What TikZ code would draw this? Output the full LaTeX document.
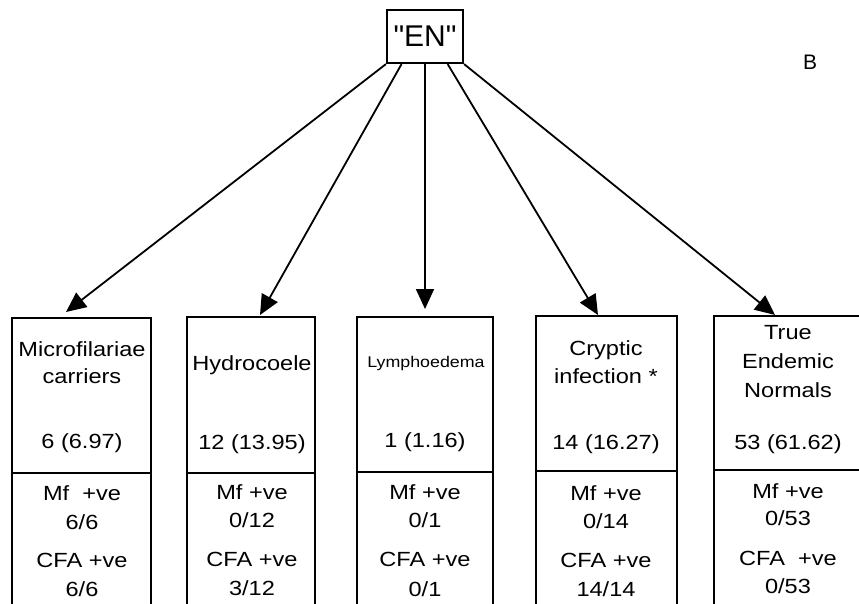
\documentclass[tikz,border=0pt]{standalone}
\usepackage{fontspec}
\setmainfont{Liberation Sans}[FakeStretch=1.15]
\newfontfamily\plainsans{Liberation Sans}
\usetikzlibrary{arrows.meta,calc}
\begin{document}
\begin{tikzpicture}[x=1pt,y=-1pt,
  box/.style={draw,line width=2.2pt,anchor=north,minimum height=320pt,inner sep=0pt},
  txt/.style={anchor=base,inner sep=0pt,font=\fontsize{20.5}{24}\selectfont},
  small/.style={anchor=base,inner sep=0pt,font=\fontsize{15.5}{18}\selectfont},
  arr/.style={line width=1.8pt,-{Triangle[length=20pt,width=18pt]}},
  divider/.style={line width=2.2pt}]
\clip (0,0) rectangle (859,603);
\fill[white] (0,0) rectangle (859,603);
% top node
\node[draw,line width=2.2pt,minimum width=76pt,minimum height=53pt,inner sep=0pt,
  font=\plainsans\fontsize{30}{30}\selectfont] (en) at (425,36.5) {"EN"};
\node[anchor=base,inner sep=0pt,font=\plainsans\fontsize{21}{22}\selectfont] (lb) at (810,69) {B};
% boxes
\node[box,minimum width=139pt] (b1) at (81.5,317) {};
\node[box,minimum width=128pt] (b2) at (251,316) {};
\node[box,minimum width=136pt] (b3) at (425,316) {};
\node[box,minimum width=141pt] (b4) at (606.5,315) {};
\node[box,minimum width=155pt] (b5) at (791.5,315) {};
\draw[divider] (b1.west |- 0,473) -- (b1.east |- 0,473);
\draw[divider] (b2.west |- 0,473) -- (b2.east |- 0,473);
\draw[divider] (b3.west |- 0,472) -- (b3.east |- 0,472);
\draw[divider] (b4.west |- 0,471) -- (b4.east |- 0,471);
\draw[divider] (b5.west |- 0,470) -- (b5.east |- 0,470);
% arrow ends
\coordinate (t1) at (66,312);
\coordinate (t2) at (260,315);
\coordinate (t3) at (425,309);
\coordinate (t4) at (598,315);
\coordinate (t5) at (775,315);
\draw[arr] (en.south west) -- (t1);
\draw[arr] ($(en.south west)!0.2!(en.south east)$) -- (t2);
\draw[arr] (en.south) -- (t3);
\draw[arr] ($(en.south west)!0.79!(en.south east)$) -- (t4);
\draw[arr] (en.south east) -- (t5);
% box 1
\node[txt] (b1a) at (82,356) {Microfilariae};
\node[txt] (b1b) at (82,383) {carriers};
\node[txt] (b1n) at (82,448) {6 (6.97)};
\node[txt] (b1m) at (82,500) {Mf\ \ +ve};
\node[txt] (b1p) at (82,529) {6/6};
\node[txt] (b1c) at (82,567) {CFA +ve};
\node[txt] (b1q) at (82,596) {6/6};
% box 2
\node[txt] (b2a) at (252,370) {Hydrocoele};
\node[txt] (b2n) at (252,449) {12 (13.95)};
\node[txt] (b2m) at (252,499) {Mf +ve};
\node[txt] (b2p) at (252,527) {0/12};
\node[txt] (b2c) at (252,566) {CFA +ve};
\node[txt] (b2q) at (252,595) {3/12};
% box 3
\node[small] (b3a) at (426,367) {Lymphoedema};
\node[txt] (b3n) at (425,447) {1 (1.16)};
\node[txt] (b3m) at (425,499) {Mf +ve};
\node[txt] (b3p) at (425,527) {0/1};
\node[txt] (b3c) at (425,566) {CFA +ve};
\node[txt] (b3q) at (425,596) {0/1};
% box 4
\node[txt] (b4a) at (606,355) {Cryptic};
\node[txt] (b4b) at (606,383) {infection *};
\node[txt] (b4n) at (606,449) {14 (16.27)};
\node[txt] (b4m) at (606,500) {Mf +ve};
\node[txt] (b4p) at (606,528) {0/14};
\node[txt] (b4c) at (606,567) {CFA +ve};
\node[txt] (b4q) at (606,596) {14/14};
% box 5
\node[txt] (b5a) at (788,339) {True};
\node[txt] (b5b) at (788,368) {Endemic};
\node[txt] (b5c) at (788,397) {Normals};
\node[txt] (b5n) at (788,449) {53 (61.62)};
\node[txt] (b5m) at (788,498) {Mf +ve};
\node[txt] (b5p) at (788,525) {0/53};
\node[txt] (b5d) at (788,565) {CFA\ \ +ve};
\node[txt] (b5q) at (788,593) {0/53};
\end{tikzpicture}
\end{document}
